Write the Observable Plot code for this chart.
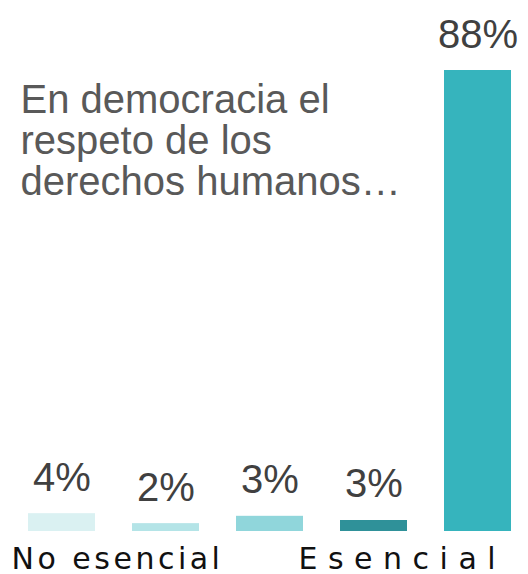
<!DOCTYPE html>
<html><head><meta charset="utf-8">
<script src="https://cdn.jsdelivr.net/npm/d3@7"></script>
<script src="https://cdn.jsdelivr.net/npm/@observablehq/plot@0.6"></script>
<style>
body{margin:0;background:#fff;}
</style></head><body><div id="chart"></div>
<script>
const categories = ["1","2","3","4","5"];
const values = [3.4, 1.5, 2.9, 2.1, 88];
const labels = ["4%", "2%", "3%", "3%", "88%"];
const colors = ["#daf1f2", "#b4e4e7", "#90d6db", "#2f9199", "#36b4bd"];
const title = "En democracia el\nrespeto de los\nderechos humanos…";
const leftLabel = "No esencial";
const rightLabel = "Esencial";

const data = categories.map((c, i) => ({cat: c, value: values[i], label: labels[i], color: colors[i]}));
const font = "Liberation Sans, Arial, sans-serif";
const font2 = "DejaVu Sans, sans-serif";

const chart = Plot.plot({
  width: 528, height: 574,
  marginLeft: 17, marginRight: 6, marginTop: 70, marginBottom: 43,
  style: {background: "#fff", fontFamily: font},
  x: {type: "band", domain: categories, paddingInner: 0.353, paddingOuter: 0.1, axis: null},
  y: {domain: [0, d3.max(values)], axis: null},
  marks: [
    Plot.barY(data, {x: "cat", y: "value", fill: d => d.color}),
    Plot.text(data, {x: "cat", y: "value", text: "label", lineAnchor: "bottom", dy: -23,
      fontSize: 40, fill: "#404040", fontFamily: font}),
    Plot.text([title], {frameAnchor: "top-left", textAnchor: "start", lineAnchor: "top",
      dx: 3, dy: 13, lineHeight: 1.025, fontSize: 40, fill: "#595959", fontFamily: font}),
    Plot.text([leftLabel], {frameAnchor: "bottom-left", textAnchor: "start", lineAnchor: "bottom",
      dx: -6, dy: 37, fontSize: 30, fill: "#111", fontFamily: font2}),
    Plot.text([rightLabel], {frameAnchor: "bottom-left", textAnchor: "start", lineAnchor: "bottom",
      dx: 281, dy: 37, fontSize: 30, fill: "#111", fontFamily: font2})
  ]
});
const sel = d3.select(chart).selectAll("text");
sel.filter(function() { return this.textContent === leftLabel; }).style("letter-spacing", "3.5px");
sel.filter(function() { return this.textContent === rightLabel; }).style("letter-spacing", "10.5px");
document.getElementById("chart").appendChild(chart);
</script></body></html>
